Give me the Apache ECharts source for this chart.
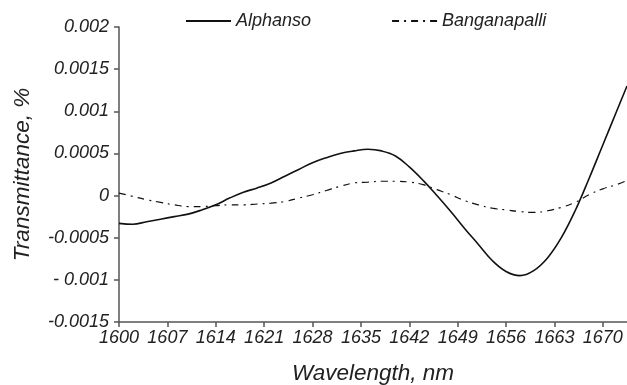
<!DOCTYPE html>
<html>
<head>
<meta charset="utf-8">
<script src="https://cdn.jsdelivr.net/npm/echarts@6/dist/echarts.min.js"></script>
<style>
  html, body { margin: 0; padding: 0; background: #fff; }
  #chart { width: 627px; height: 385px; }
</style>
</head>
<body>
<div id="chart"></div>
<script>
// Wavelength samples (nm)
const wavelength = [1600, 1602, 1604, 1606, 1608, 1610, 1612, 1614, 1616, 1618, 1620, 1622, 1624, 1626, 1628, 1630, 1632, 1634, 1636, 1638, 1640, 1642, 1644, 1646, 1648, 1650, 1652, 1654, 1656, 1658, 1660, 1662, 1664, 1666, 1668, 1670, 1672, 1673.5];

// Transmittance (%) for each variety
const alphanso = [-0.00033, -0.00034, -0.00031, -0.00028, -0.00025, -0.00022, -0.00017, -0.00011, -0.00003, 0.00004, 0.00009, 0.00015, 0.00023, 0.00031, 0.00039, 0.00045, 0.00050, 0.00053, 0.00055, 0.00053, 0.00047, 0.00034, 0.00018, 0.00000, -0.00019, -0.00039, -0.00058, -0.00077, -0.00090, -0.00095, -0.00089, -0.00074, -0.00050, -0.00018, 0.00020, 0.00060, 0.00100, 0.00130];
const banganapalli = [0.00003, -0.00001, -0.00005, -0.00008, -0.00011, -0.00013, -0.00013, -0.00012, -0.00011, -0.00011, -0.00010, -0.00009, -0.00007, -0.00003, 0.00001, 0.00006, 0.00011, 0.00015, 0.00016, 0.00017, 0.00017, 0.00016, 0.00013, 0.00007, 0.00001, -0.00006, -0.00011, -0.00015, -0.00017, -0.00019, -0.00020, -0.00018, -0.00014, -0.00008, 0.00001, 0.00008, 0.00013, 0.00018];

// Axis tick labels
const xTicks = [1600, 1607, 1614, 1621, 1628, 1635, 1642, 1649, 1656, 1663, 1670];
const yTicks = ['-0.0015', '- 0.001', '-0.0005', '0', '0.0005', '0.001', '0.0015', '0.002'];

const FONT = 'Liberation Sans, Arial, sans-serif';
const AXIS_COLOR = '#555';

function pairs(xs, ys) { return xs.map((x, i) => [x, ys[i]]); }

function yLabel(v) {
  const idx = Math.round((v + 0.0015) / 0.0005);
  return yTicks[idx] !== undefined ? yTicks[idx] : '';
}

const chart = echarts.init(document.getElementById('chart'), null, { renderer: 'canvas' });
chart.setOption({
  animation: false,
  backgroundColor: '#fff',
  grid: { left: 119, right: 0, top: 27, bottom: 63, outerBoundsMode: 'none' },
  legend: {
    top: 12,
    left: 185,
    padding: 0,
    itemWidth: 45,
    itemHeight: 10,
    itemGap: 80,
    itemStyle: { opacity: 0 },
    textStyle: { fontFamily: FONT, fontStyle: 'italic', fontSize: 18, color: '#222' },
    data: ['Alphanso', 'Banganapalli']
  },
  xAxis: {
    type: 'value',
    min: 1600,
    max: 1673.5,
    interval: 7,
    name: 'Wavelength, nm',
    nameLocation: 'middle',
    nameGap: 40,
    nameTextStyle: { fontFamily: FONT, fontStyle: 'italic', fontSize: 22.5, color: '#222' },
    axisLine: { onZero: false, lineStyle: { color: AXIS_COLOR, width: 1.5 } },
    axisTick: { length: 5, lineStyle: { color: AXIS_COLOR, width: 1.5 } },
    axisLabel: {
      margin: 7,
      fontFamily: FONT, fontStyle: 'italic', fontSize: 18, color: '#222',
      showMaxLabel: false,
      formatter: v => (xTicks.indexOf(v) >= 0 ? String(v) : '')
    },
    splitLine: { show: false }
  },
  yAxis: {
    type: 'value',
    min: -0.0015,
    max: 0.002,
    interval: 0.0005,
    name: 'Transmittance, %',
    nameLocation: 'middle',
    nameGap: 85,
    nameTextStyle: { fontFamily: FONT, fontStyle: 'italic', fontSize: 22.5, color: '#222' },
    axisLine: { show: true, lineStyle: { color: AXIS_COLOR, width: 1.5 } },
    axisTick: { show: true, length: 5, lineStyle: { color: AXIS_COLOR, width: 1.5 } },
    axisLabel: {
      margin: 10,
      fontFamily: FONT, fontStyle: 'italic', fontSize: 18, color: '#222',
      formatter: yLabel
    },
    splitLine: { show: false }
  },
  series: [
    {
      name: 'Alphanso',
      type: 'line',
      data: pairs(wavelength, alphanso),
      smooth: 0.4,
      symbol: 'none',
      color: '#111',
      lineStyle: { color: '#111', width: 1.6, type: 'solid' }
    },
    {
      name: 'Banganapalli',
      type: 'line',
      data: pairs(wavelength, banganapalli),
      smooth: 0.4,
      symbol: 'none',
      color: '#111',
      lineStyle: { color: '#111', width: 1.2, type: [7, 5, 2, 5] }
    }
  ]
});
</script>
</body>
</html>
